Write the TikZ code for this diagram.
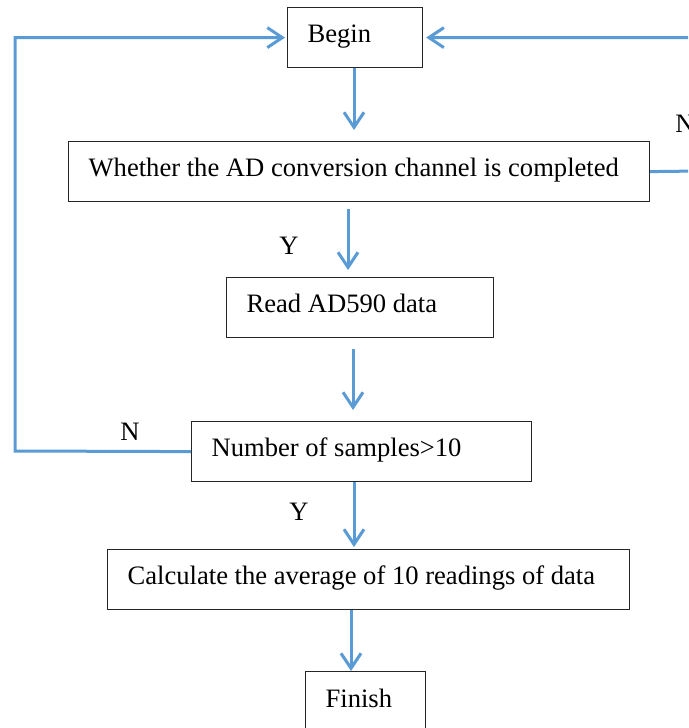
\documentclass[tikz,border=0pt]{standalone}
\usepackage{fontspec}
\setmainfont{Liberation Serif}
\usetikzlibrary{arrows.meta}
\definecolor{flowblue}{HTML}{5B9BD5}
\begin{document}
\begin{tikzpicture}[x=1pt,y=-1pt,
  font=\fontsize{26.6}{30}\selectfont,
  box/.style={draw=black!85, line width=1.2pt, anchor=north west, inner xsep=20pt, inner ysep=0pt,
    text height=19pt, text depth=9pt, minimum height=60pt},
  arr/.style={draw=flowblue, line width=3pt, -{Straight Barb[length=15pt,width=20pt]}},
  lbl/.style={inner sep=0pt}]
\clip (0,0) rectangle (688,728);
\fill[white] (0,0) rectangle (688,728);
\node[box]  (b1) at (287,7)   {\makebox[95pt][l]{Begin}};
\node[box] (b2) at (68,141)  {\makebox[541pt][l]{Whether the AD conversion channel is completed}};
\node[box] (b3) at (226,277) {\makebox[227pt][l]{Read AD590 data}};
\node[box] (b4) at (191,421) {\makebox[300pt][l]{Number of samples>10}};
\node[box] (b5) at (107,549) {\makebox[482pt][l]{Calculate the average of 10 readings of data}};
\node[box, minimum height=61pt]  (b6) at (305,671) {\makebox[80pt][l]{Finish}};
\draw[arr, shorten >=11pt] (b1.south -| 354,0) -- (b2.north -| 354,0);
\draw[arr, shorten <=7pt, shorten >=7pt] (b2.south -| 348,0) -- (b3.north -| 348,0);
\draw[arr, shorten <=11pt, shorten >=11pt] (b3.south -| 353,0) -- (b4.north -| 353,0);
\draw[arr, shorten >=2pt] (b4.south -| 354,0) -- (b5.north -| 354,0);
\draw[arr] (b5.south -| 351,0) -- (b6.north -| 351,0);
\coordinate (rt) at (700,171);
\coordinate (lt) at (15,451);
\draw[arr, shorten >=3pt] (b2.east) -- (rt) |- (b1.east);
\draw[arr, shorten >=2pt] (b4.west) -- (lt) |- (b1.west);
\node[lbl] (n1) at (685,124) {N};
\node[lbl] (n2) at (130,432) {N};
\node[lbl] (y1) at (289,246) {Y};
\node[lbl] (y2) at (299,512) {Y};
\end{tikzpicture}
\end{document}
